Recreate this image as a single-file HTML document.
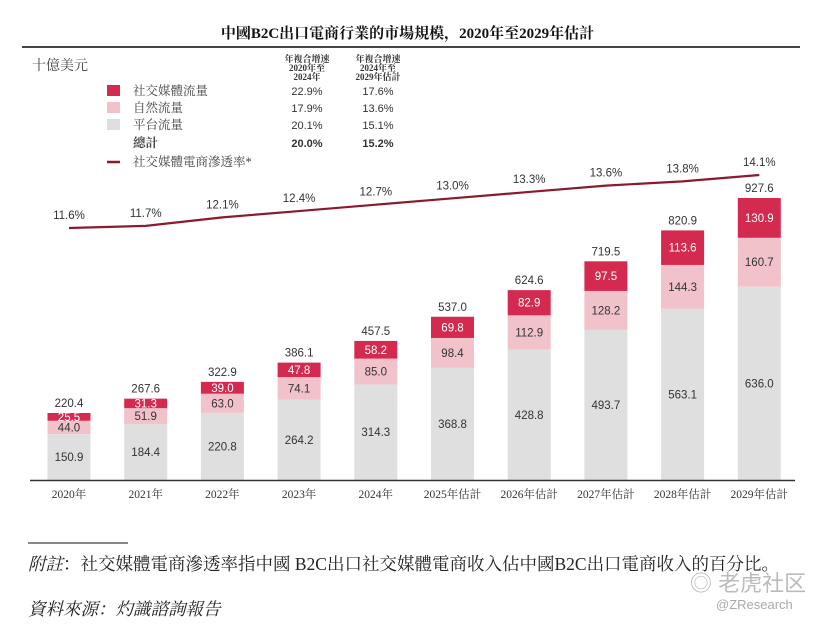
<!DOCTYPE html>
<html><head><meta charset="utf-8">
<style>
body{margin:0;background:#fff;width:815px;height:626px;overflow:hidden;position:relative;font-family:"Liberation Serif","Noto Serif CJK SC",serif;}
.abs{position:absolute;}
</style></head><body>
<div class="abs" style="left:0;width:815px;top:22px;text-align:center;font-weight:bold;font-size:15px;color:#111;">中國B2C出口電商行業的市場規模，2020年至2029年估計</div>
<div class="abs" style="left:22px;width:778px;top:46px;height:2px;background:#444;"></div>
<div class="abs" style="left:32px;top:55px;font-size:14px;color:#444;">十億美元</div>
<svg class="abs" style="left:0;top:0" width="815" height="626" id="chart"></svg>
<div class="abs" style="left:28px;width:100px;top:542px;height:2px;background:#888;"></div>
<div class="abs" style="left:28px;top:551px;font-size:17.5px;color:#222;white-space:nowrap;"><i>附註</i>：社交媒體電商滲透率指中國 B2C出口社交媒體電商收入佔中國B2C出口電商收入的百分比。</div>
<div class="abs" style="left:28px;top:596px;font-size:17.5px;color:#222;font-style:italic;">資料來源：灼識諮詢報告</div>
<div class="abs" style="left:690px;top:566px;font-size:22px;color:#bbb;font-family:'Liberation Sans','Noto Sans CJK SC',sans-serif;">◎ 老虎社区</div>
<div class="abs" style="left:716px;top:597px;font-size:13px;color:#aaa;font-family:'Liberation Sans',sans-serif;">@ZResearch</div>
<script>
const categories=["2020年","2021年","2022年","2023年","2024年","2025年估計","2026年估計","2027年估計","2028年估計","2029年估計"];
const platform=[150.9,184.4,220.8,264.2,314.3,368.8,428.8,493.7,563.1,636.0];
const organic=[44.0,51.9,63.0,74.1,85.0,98.4,112.9,128.2,144.3,160.7];
const social=[25.5,31.3,39.0,47.8,58.2,69.8,82.9,97.5,113.6,130.9];
const totals=[220.4,267.6,322.9,386.1,457.5,537.0,624.6,719.5,820.9,927.6];
const penetration=[11.6,11.7,12.1,12.4,12.7,13.0,13.3,13.6,13.8,14.1];
const legendNames=["社交媒體流量","自然流量","平台流量","總計","社交媒體電商滲透率*"];
const cagr1=["22.9%","17.9%","20.1%","20.0%"];
const cagr2=["17.6%","13.6%","15.1%","15.2%"];
const NS="http://www.w3.org/2000/svg";
const svg=document.getElementById('chart');
const SANS="'Liberation Sans','Noto Sans CJK SC',sans-serif";
const SERIF="'Liberation Serif','Noto Serif CJK SC',serif";
const baseY=480, k=0.304, x0=69, step=76.7, bw=43;
const xc=i=>x0+i*step;
const yv=v=>baseY-v*k;
const yp=p=>228-(p-11.6)*21.2;
function mk(t,a,txt){const e=document.createElementNS(NS,t);for(const n in a)e.setAttribute(n,a[n]);if(txt!==undefined)e.textContent=txt;svg.appendChild(e);return e;}
const cols={p:"#e0dfe0",o:"#f2c2cb",s:"#d42a50"};
categories.forEach((c,i)=>{
  const x=xc(i)-bw/2;
  let y=baseY;
  [[platform[i],cols.p,'#333','platform'],[organic[i],cols.o,'#333','organic'],[social[i],cols.s,'#fff','social']].forEach(([v,col,tc,nm])=>{
    const h=v*k;
    const r=mk('rect',{x:x,y:y-h,width:bw,height:h,fill:col});
    
    
    const t=mk('text',{x:xc(i),y:y-h/2+4,'text-anchor':'middle','font-size':11.5,fill:tc,'font-family':SANS},v.toFixed(1));
    
    
    y-=h;
  });
  const tt=mk('text',{x:xc(i),y:yv(totals[i])-6,'text-anchor':'middle','font-size':11.5,fill:'#333','font-family':SANS},totals[i].toFixed(1));
  
  
  const xl=mk('text',{x:xc(i),y:498,'text-anchor':'middle','font-size':11.5,fill:'#333','font-family':SERIF},c);
  
  
  const pl=mk('text',{x:xc(i),y:yp(penetration[i])-9,'text-anchor':'middle','font-size':11.5,fill:'#333','font-family':SANS},penetration[i].toFixed(1)+'%');
  
  
});
const ax=mk('line',{x1:30,x2:795,y1:baseY+0.5,y2:baseY+0.5,stroke:'#333','stroke-width':1.5});


const ln=mk('polyline',{points:penetration.map((p,i)=>xc(i)+','+yp(p)).join(' '),fill:'none',stroke:'#8b1a2c','stroke-width':2.2});


const lgY=[91,108,125];
[cols.s,cols.o,cols.p].forEach((c,j)=>{
  const r=mk('rect',{x:107,y:lgY[j]-6,width:13,height:11,fill:c});
  
  
});
const lys=[95,112,129,147,166];
legendNames.forEach((n,j)=>{
  const t=mk('text',{x:133,y:lys[j],'font-size':12.5,fill:'#444','font-family':SERIF,'font-weight':j==3?'bold':'normal'},n);
  
  
  if(j<4){
    const a=mk('text',{x:307,y:lys[j],'text-anchor':'middle','font-size':11,fill:'#333','font-family':SANS,'font-weight':j==3?'bold':'normal'},cagr1[j]);
    
    
    const b=mk('text',{x:378,y:lys[j],'text-anchor':'middle','font-size':11,fill:'#333','font-family':SANS,'font-weight':j==3?'bold':'normal'},cagr2[j]);
    
    
  }
});
const ll=mk('line',{x1:107,x2:120,y1:162,y2:162,stroke:'#8b1a2c','stroke-width':2.5});


[["年複合增速","2020年至","2024年"],["年複合增速","2024年至","2029年估計"]].forEach((h,c)=>{
  h.forEach((s,r)=>{
    const t=mk('text',{x:c?378:307,y:62+r*9,'text-anchor':'middle','font-size':9,'font-weight':'bold',fill:'#333','font-family':SERIF},s);
    
    
  });
});
</script>
</body></html>
